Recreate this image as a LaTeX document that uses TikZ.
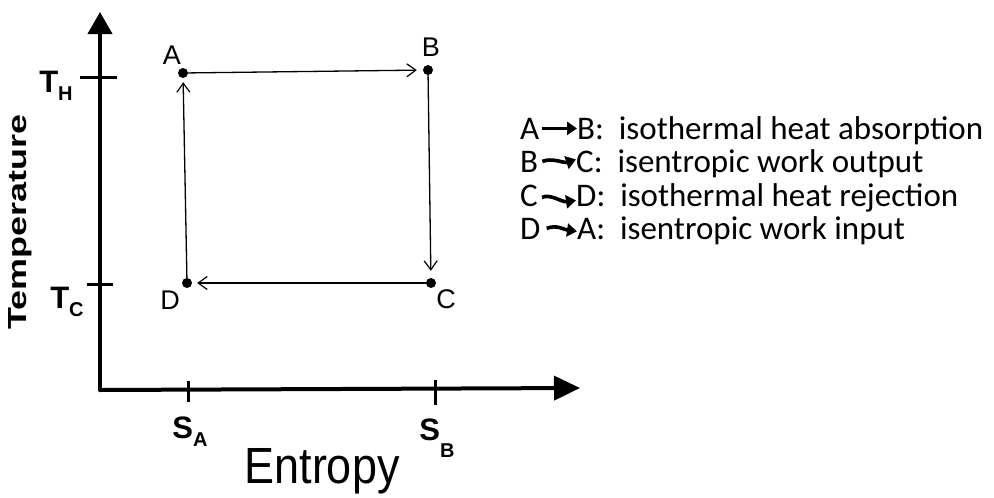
\documentclass[tikz,border=0pt]{standalone}
\usepackage{fontspec}
\usepackage{graphicx}
\setmainfont{Carlito}
\newfontfamily\handfont{Liberation Sans}
\usetikzlibrary{arrows.meta}
\begin{document}
\begin{tikzpicture}[x=1pt,y=-1pt,
  axis/.style={line width=4pt, line cap=round},
  tickmark/.style={line width=3pt},
  cyc/.style={line width=1.3pt, -{Straight Barb[length=9pt,width=13pt,line width=1.2pt]}},
  dot/.style={circle, fill=black, inner sep=0pt, minimum size=10pt},
  ptlab/.style={font=\handfont\fontsize{27}{27}\selectfont, inner sep=0pt},
  axlab/.style={font=\handfont\bfseries\fontsize{31}{31}\selectfont, inner sep=0pt},
  leg/.style={font=\fontsize{33}{33}\selectfont, inner sep=0pt, anchor=base west},
  legarrow/.style={line width=3.6pt, -{Triangle[length=10pt,width=13pt]}}
]
\useasboundingbox (0,0) rectangle (994,498);

% axes
\coordinate (O) at (100,390);
\coordinate (Ytop) at (100,12);
\coordinate (Xend) at (580,388);
\draw[axis, -{Triangle[length=22pt,width=24pt]}] (O) -- (Ytop);
\draw[axis, -{Triangle[length=26pt,width=24pt]}] (O) -- (Xend);

% ticks
\coordinate (th1) at (80,77);  \coordinate (th2) at (117,77);
\coordinate (tc1) at (87,284); \coordinate (tc2) at (113,284);
\coordinate (sa1) at (188,381); \coordinate (sa2) at (188,402);
\coordinate (sb1) at (435,380); \coordinate (sb2) at (435,405);
\draw[tickmark] (th1) -- (th2);
\draw[tickmark] (tc1) -- (tc2);
\draw[tickmark] (sa1) -- (sa2);
\draw[tickmark] (sb1) -- (sb2);

% axis tick labels
\newcommand{\subsc}[1]{\raisebox{-0.5ex}{\fontsize{20}{20}\selectfont #1}}
\node[axlab] (TH) at (56,86) {T\subsc{H}};
\node[axlab] (TC) at (67,302) {T\subsc{C}};
\node[axlab] (SA) at (190,432) {S\subsc{A}};
\node[axlab] (SB) at (437,438) {S\raisebox{-1ex}{\fontsize{20}{20}\selectfont B}};

% axis titles
\node[inner sep=0pt, rotate=90] (temp) at (20,222) {\resizebox{215pt}{18pt}{\handfont\bfseries Temperature}};
\node[inner sep=0pt, anchor=base] (entr) at (322,483) {\resizebox{155pt}{35pt}{\handfont Entropy}};

% cycle points
\node[dot] (A) at (183,73) {};
\node[dot] (B) at (428,70) {};
\node[dot] (C) at (431,283) {};
\node[dot] (D) at (187,283) {};
\node[ptlab] (lA) at (172,55) {A};
\node[ptlab] (lB) at (431,47) {B};
\node[ptlab] (lC) at (446,299) {C};
\node[ptlab] (lD) at (170,300) {D};

\draw[cyc, shorten >=6pt] (A) -- (B);
\draw[cyc, shorten >=7pt] (B) -- (C);
\draw[cyc, shorten >=5pt] (C) -- (D);
\draw[cyc, shorten >=4pt] (D) -- (A);

% legend
\node[leg] (l1a) at (520,139) {A};
\node[leg] (l1b) at (577,139) {B:\ \ isothermal heat absorption};
\node[leg] (l2a) at (520,172) {B};
\node[leg] (l2b) at (576,172) {C:\ \ isentropic work output};
\node[leg] (l3a) at (520,206) {C};
\node[leg] (l3b) at (576,206) {D:\ \ isothermal heat rejection};
\node[leg] (l4a) at (520,239) {D};
\node[leg] (l4b) at (577,239) {A:\ \ isentropic work input};

\draw[legarrow] (l1a.east) ++(3,0) coordinate (a1s) -- (l1b.west |- a1s);
\draw[legarrow] (l2a.east) ++(4,0) coordinate (a2s) .. controls ++(10,-4) and ++(-12,4) .. ([yshift=2pt]l2b.west |- a2s);
\draw[legarrow] (l3a.east) ++(4,2) coordinate (a3s) .. controls ++(8,-4) and ++(-14,2) .. ([yshift=-3pt]l3b.west |- a3s);
\draw[legarrow] (l4a.east) ++(6,0) coordinate (a4s) .. controls ++(10,-4) and ++(-14,-2) .. ([yshift=-3pt]l4b.west |- a4s);
\end{tikzpicture}
\end{document}
